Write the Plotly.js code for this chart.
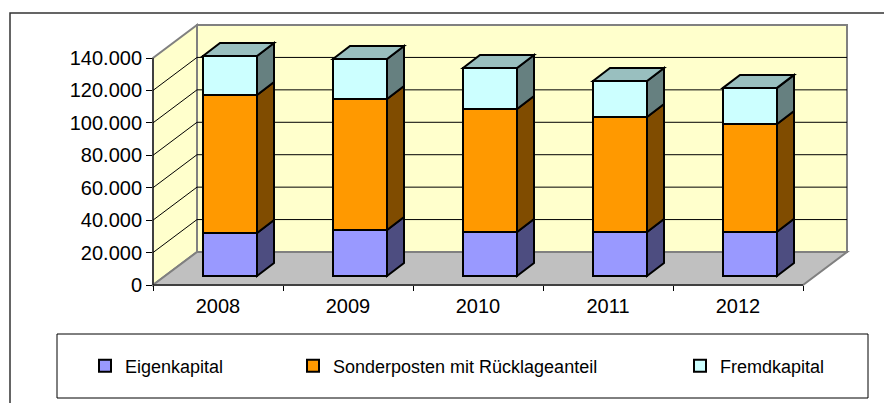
<!DOCTYPE html>
<html><head><meta charset="utf-8">
<script src="https://cdn.plot.ly/plotly-3.0.1.min.js"></script>
<style>html,body{margin:0;padding:0;background:#fff;overflow:hidden}</style>
</head><body><div id="chart" style="width:884px;height:403px"></div>
<script>
// ---- data ----
const years = ['2008', '2009', '2010', '2011', '2012'];
const eigenkapital = [26500, 28400, 27100, 27100, 27300];
const sonderposten = [85100, 80800, 75900, 71000, 66400];
const fremdkapital = [24100, 24600, 25300, 22200, 22300];
const seriesNames = ['Eigenkapital', 'Sonderposten mit Rücklageanteil', 'Fremdkapital'];
const yTickVals = [0, 20000, 40000, 60000, 80000, 100000, 120000, 140000];
const yTickText = ['0', '20.000', '40.000', '60.000', '80.000', '100.000', '120.000', '140.000'];

// ---- geometry / style ----
const W = 884, H = 403, ML = 153, MR = 37, MT = 25, MB = 118;
const plotW = W - ML - MR, plotH = H - MT - MB;
const catPx = 130;                 // px per category on the front plane
const yMax = 140000, yMaxPx = 227; // front-plane axis height
const upp = yMax / yMaxPx;         // value units per px
const depthX = 44, depthY = 33;    // wall depth in px
const barOffX = 12, barOffY = 9;   // bar front plane offset in px
const barDX = 17, barDY = 13;      // bar depth in px
const barWpx = 54;
const font = 'Liberation Sans, Arial, sans-serif';

const frontColors = ['#9999FF', '#FF9900', '#CCFFFF'];
const sideColors = ['#4D4D80', '#804C00', '#668080'];
const topColors = ['#7373BF', '#BF7300', '#99BFBF'];

const xRange = [-0.5, -0.5 + plotW / catPx];
const yRange = [0, plotH * upp];
const x2Range = [xRange[0] - barOffX / catPx, xRange[1] - barOffX / catPx];
const y2Range = [yRange[0] - barOffY * upp, yRange[1] - barOffY * upp];

const pxX = p => (p - ML) / plotW;          // pixel -> paper
const pxY = p => (H - MB - p) / plotH;
const dX = x => (x - xRange[0]) * catPx / plotW; // front data -> paper
const dY = v => v / (plotH * upp);
const dxp = depthX / plotW, dyp = depthY / plotH;

const shapes = [];
const grey = '#808080';
// left side wall
shapes.push({type: 'path', xref: 'paper', yref: 'paper', layer: 'below',
  path: `M0,${dY(0)} L0,${dY(yMax)} L${dxp},${dY(yMax) + dyp} L${dxp},${dyp} Z`,
  fillcolor: '#FFFFCC', line: {color: grey, width: 2}});
// back wall
shapes.push({type: 'rect', xref: 'paper', yref: 'paper', layer: 'below',
  x0: dxp, x1: dX(years.length - 0.5) + dxp, y0: dyp, y1: dY(yMax) + dyp,
  fillcolor: '#FFFFCC', line: {color: grey, width: 2}});
// floor
shapes.push({type: 'path', xref: 'paper', yref: 'paper', layer: 'below',
  path: `M0,0 L${dX(years.length - 0.5)},0 L${dX(years.length - 0.5) + dxp},${dyp} L${dxp},${dyp} Z`,
  fillcolor: '#C0C0C0', line: {color: grey, width: 2}});
// gridlines
yTickVals.slice(1, -1).forEach(v => {
  shapes.push({type: 'line', xref: 'paper', yref: 'paper', layer: 'below',
    x0: dxp, x1: dX(years.length - 0.5) + dxp, y0: dY(v) + dyp, y1: dY(v) + dyp,
    line: {color: '#000', width: 1}});
  shapes.push({type: 'line', xref: 'paper', yref: 'paper', layer: 'below',
    x0: 0, x1: dxp, y0: dY(v), y1: dY(v) + dyp, line: {color: '#000', width: 1}});
});
// axis lines
shapes.push({type: 'line', xref: 'paper', yref: 'paper', x0: 0, x1: 0, y0: 0, y1: dY(yMax),
  line: {color: '#000', width: 1}});
shapes.push({type: 'line', xref: 'paper', yref: 'paper', x0: 0, x1: dX(years.length - 0.5), y0: 0, y1: 0,
  line: {color: '#000', width: 1}});

// 3D faces of bars
const series = [eigenkapital, sonderposten, fremdkapital];
const bw = barWpx / catPx, bdx = barDX / catPx, bdy = barDY * upp;
years.forEach((yr, i) => {
  let base = 0;
  series.forEach((vals, k) => {
    const b = base, t = base + vals[i];
    const xr = i + bw / 2, xl = i - bw / 2;
    shapes.push({type: 'path', xref: 'x2', yref: 'y2',
      path: `M${xr},${b} L${xr + bdx},${b + bdy} L${xr + bdx},${t + bdy} L${xr},${t} Z`,
      fillcolor: sideColors[k], line: {color: '#000', width: 2}});
    if (k === series.length - 1) {
      shapes.push({type: 'path', xref: 'x2', yref: 'y2',
        path: `M${xl},${t} L${xl + bdx},${t + bdy} L${xr + bdx},${t + bdy} L${xr},${t} Z`,
        fillcolor: topColors[k], line: {color: '#000', width: 2}});
    }
    base = t;
  });
});

// outer frame and legend box
shapes.push({type: 'rect', xref: 'paper', yref: 'paper', layer: 'below',
  x0: pxX(10), x1: pxX(900), y0: pxY(420), y1: pxY(13),
  line: {color: '#333', width: 1.5}});
shapes.push({type: 'rect', xref: 'paper', yref: 'paper', layer: 'below',
  x0: pxX(57), x1: pxX(868), y0: pxY(398), y1: pxY(334),
  line: {color: '#000', width: 1}});

const legendNames = ['legend', 'legend2', 'legend3'];
const traces = series.map((vals, k) => ({
  type: 'bar', name: seriesNames[k], x: years.map((_, i) => i), y: vals,
  width: bw, xaxis: 'x2', yaxis: 'y2', legend: legendNames[k],
  marker: {color: frontColors[k], line: {color: '#000', width: 2}},
  hoverinfo: 'name+y'
}));
// empty trace so the labelled front-plane axes are drawn
traces.unshift({type: 'scatter', mode: 'markers', x: [null], y: [null], xaxis: 'x', yaxis: 'y',
  showlegend: false, hoverinfo: 'skip'});

const legendTextX = [125, 333, 720];
const legendBase = {orientation: 'h', xanchor: 'left', yanchor: 'middle', y: pxY(366),
  bgcolor: 'rgba(0,0,0,0)', borderwidth: 0, font: {family: font, size: 18, color: '#000'}};

const layout = {
  width: W, height: H, margin: {l: ML, r: MR, t: MT, b: MB, pad: 0},
  paper_bgcolor: '#fff', plot_bgcolor: 'rgba(0,0,0,0)',
  barmode: 'stack', showlegend: true,
  font: {family: font, size: 20, color: '#000'},
  xaxis: {range: xRange, tickvals: years.map((_, i) => i), ticktext: years,
    ticks: '', ticklabelstandoff: 7, showgrid: false, zeroline: false, showline: false, fixedrange: true,
    tickfont: {family: font, size: 20, color: '#000'},
    minor: {tickvals: years.map((_, i) => i - 0.5).concat([years.length - 0.5]),
      ticks: 'outside', ticklen: 5, tickcolor: '#000', tickwidth: 1, showgrid: false}},
  yaxis: {range: yRange, tickvals: yTickVals, ticktext: yTickText, ticks: 'outside',
    ticklen: 6, tickcolor: '#000', showgrid: false, zeroline: false, showline: false,
    fixedrange: true, tickfont: {family: font, size: 20, color: '#000'}},
  xaxis2: {range: x2Range, overlaying: 'x', visible: false, fixedrange: true},
  yaxis2: {range: y2Range, overlaying: 'y', visible: false, fixedrange: true},
  legend: Object.assign({}, legendBase, {x: pxX(legendTextX[0] - 40)}),
  legend2: Object.assign({}, legendBase, {x: pxX(legendTextX[1] - 40)}),
  legend3: Object.assign({}, legendBase, {x: pxX(legendTextX[2] - 40)}),
  shapes: shapes
};

Plotly.newPlot('chart', traces, layout, {displayModeBar: false, staticPlot: true});
</script>
</body></html>
